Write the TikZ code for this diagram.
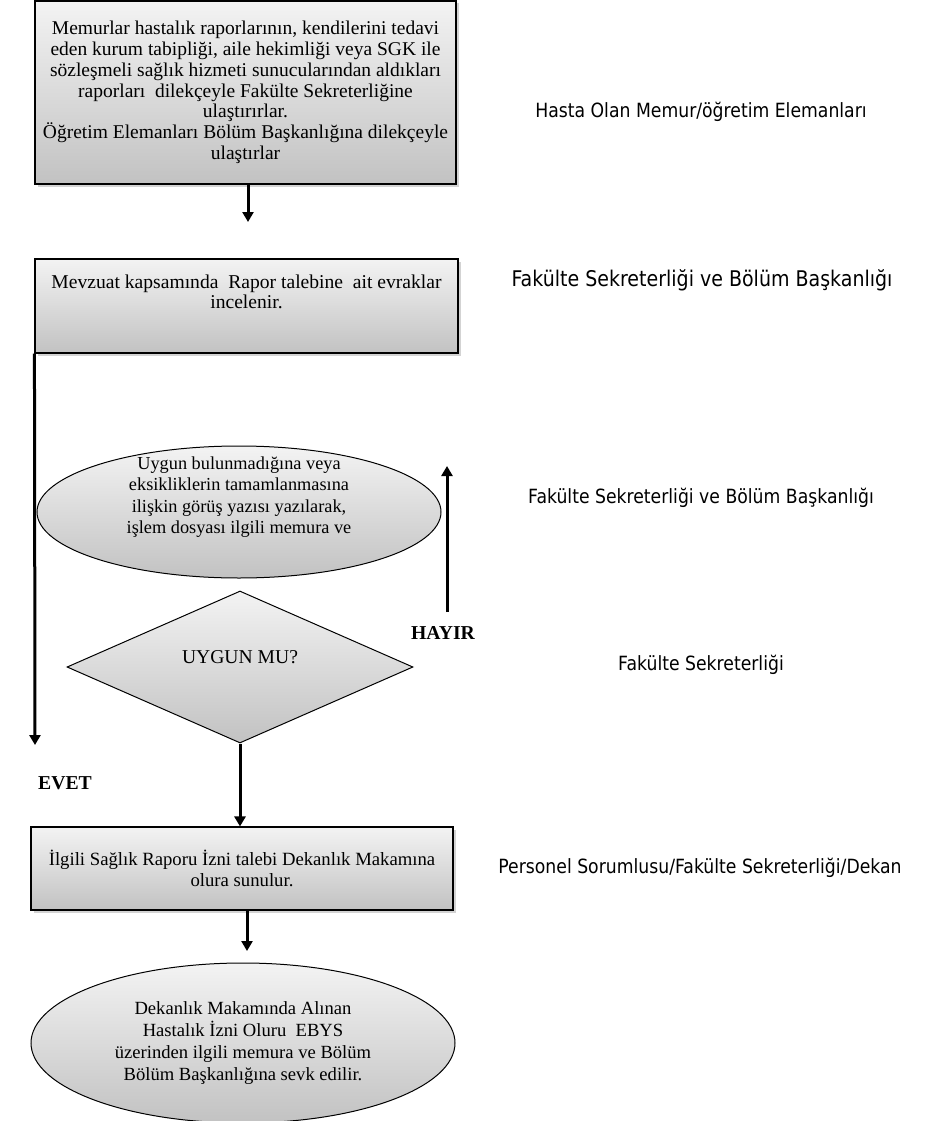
\documentclass[tikz,border=0pt]{standalone}
\usepackage{fontspec}
\setmainfont{Liberation Serif}
\newfontfamily\sidefont[FakeStretch=0.88]{DejaVu Sans}
\usetikzlibrary{arrows.meta,positioning,shapes.geometric,shadows,calc}
\definecolor{shadetop}{HTML}{F3F3F3}
\definecolor{shadebottom}{HTML}{C2C2C2}
\setlength{\lineskiplimit}{-10pt}

\begin{document}
\begin{tikzpicture}[x=1pt,y=-1pt,
    procbox/.style={draw,line width=1.1pt,rectangle,inner sep=0pt,align=flush center,
      text width=#1,minimum width=#1,
      top color=shadetop,bottom color=shadebottom,
      font=\fontsize{19.6}{20.8}\selectfont,
      drop shadow={shadow xshift=2.5pt,shadow yshift=-2.5pt,opacity=0.35}},
    roundbox/.style={draw,line width=1pt,ellipse,inner xsep=0pt,inner ysep=-16pt,align=flush center,
      text width=#1,
      top color=shadetop,bottom color=shadebottom,
      font=\fontsize{18.6}{22}\selectfont},
    decision/.style={draw,line width=1pt,diamond,inner sep=0pt,shape aspect=2.28,align=center,
      top color=shadetop,bottom color=shadebottom,
      font=\fontsize{19.6}{21}\selectfont},
    unitlabel/.style={font=\sidefont\fontsize{19.6}{22}\selectfont},
    answer/.style={font=\bfseries\fontsize{19.7}{21}\selectfont},
    flow/.style={line width=3pt,-{Triangle[length=10pt,width=11pt]}}]
  \useasboundingbox (0,0) rectangle (927,1121);

  % ana akis
  \node[procbox=421,minimum height=183,font=\fontsize{19.5}{20.8}\selectfont] (dilekce) at (245.5,92.5)
    {Memurlar hastalık raporlarının, kendilerini tedavi\\
     eden kurum tabipliği, aile hekimliği veya SGK ile\\
     sözleşmeli sağlık hizmeti sunucularından aldıkları\\
     raporları~ dilekçeyle Fakülte Sekreterliğine\\
     ulaştırırlar.\\
     Öğretim Elemanları Bölüm Başkanlığına dilekçeyle\\
     ulaştırlar};
  \node[procbox=423,minimum height=94] (inceleme) at (246.5,306)
    {Mevzuat kapsamında~ Rapor talebine~ ait evraklar\\ incelenir.\\[8pt]\mbox{}};
  \node[roundbox=280,minimum width=404,minimum height=132,
        font=\fontsize{18.3}{21.5}\selectfont] (iade) at (239,512)
    {Uygun bulunmadığına veya\\ eksikliklerin tamamlanmasına\\
     ilişkin görüş yazısı yazılarak,\\ işlem dosyası ilgili memura ve\\[12pt]\mbox{}};
  \node[decision,minimum width=346,minimum height=152] (uygunmu) at (240,667)
    {UYGUN MU?\\[-1pt]\mbox{}};
  \node[procbox=422,minimum height=83,
        font=\fontsize{18.7}{21.5}\selectfont] (olur) at (242,868.5)
    {İlgili Sağlık Raporu İzni talebi Dekanlık Makamına\\ olura sunulur.};
  \node[roundbox=290,minimum width=424,minimum height=160] (sevk) at (243,1043)
    {Dekanlık Makamında Alınan\\ Hastalık İzni Oluru~ EBYS\\
     üzerinden ilgili memura ve Bölüm\\ Bölüm Başkanlığına sevk edilir.};

  % sorumlular
  \node[unitlabel] (sorumlu1) at (701,112) {Hasta Olan Memur/öğretim Elemanları};
  \node[unitlabel,font=\sidefont\fontsize{21.6}{24}\selectfont] (sorumlu2) at (702,280)
    {Fakülte Sekreterliği ve Bölüm Başkanlığı};
  \node[unitlabel] (sorumlu3) at (701,498) {Fakülte Sekreterliği ve Bölüm Başkanlığı};
  \node[unitlabel] (sorumlu4) at (701,665) {Fakülte Sekreterliği};
  \node[unitlabel] (sorumlu5) at (700,868) {Personel Sorumlusu/Fakülte Sekreterliği/Dekan};

  \node[answer] (evet) at (65,783) {EVET};
  \node[answer] (hayir) at (443,633) {HAYIR};

  % oklar
  \coordinate (ok1) at (248,222);
  \coordinate (evetucu) at (35,745);
  \coordinate (hayirbas) at (447,612);
  \coordinate (hayirucu) at (447,466);
  \coordinate (ok4) at (247,951);
  \draw[flow] (dilekce.south -| ok1) -- (ok1);
  \draw[flow] (inceleme.south west) -- (evetucu);
  \draw[flow] (hayirbas) -- (hayirucu);
  \draw[flow] (uygunmu.south) -- (uygunmu.south |- olur.north);
  \draw[flow] (olur.south -| ok4) -- (ok4);
\end{tikzpicture}
\end{document}
